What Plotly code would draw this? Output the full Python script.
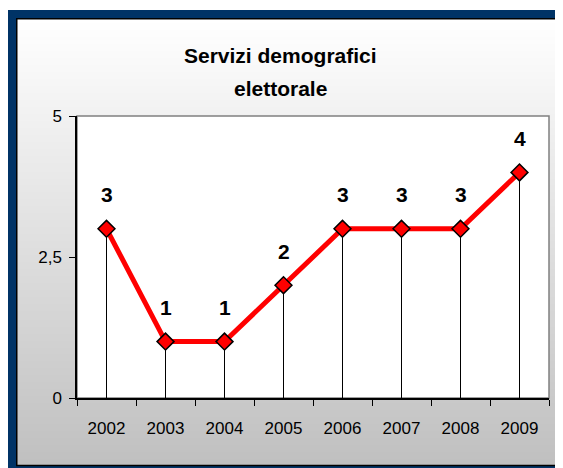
import base64
import struct
import zlib

import plotly.graph_objects as go

years = ["2002", "2003", "2004", "2005", "2006", "2007", "2008", "2009"]
values = [3, 1, 1, 2, 3, 3, 3, 4]
title_lines = ["Servizi demografici", "elettorale"]

OFF = 8  # browser body margin
W, H = 563 - OFF, 468 - OFF
# plot area in page pixels
L, R, T, B = 77, 549, 116, 398
PW, PH = R - L, B - T


def px(x):
    return (x - L) / PW


def py(y):
    return (B - y) / PH


def gradient_png(n, c_top, c_bot):
    raw = b""
    for i in range(n):
        t = i / (n - 1)
        c = int(round(c_top + (c_bot - c_top) * t))
        raw += b"\x00" + bytes([c, c, c])

    def chunk(tag, data):
        return struct.pack(">I", len(data)) + tag + data + struct.pack(">I", zlib.crc32(tag + data) & 0xFFFFFFFF)

    png = b"\x89PNG\r\n\x1a\n"
    png += chunk(b"IHDR", struct.pack(">IIBBBBB", 1, n, 8, 2, 0, 0, 0))
    png += chunk(b"IDAT", zlib.compress(raw))
    png += chunk(b"IEND", b"")
    return "data:image/png;base64," + base64.b64encode(png).decode()


def seg(x0, y0, x1, y1, color, width):
    return dict(type="line", xref="paper", yref="paper", x0=px(x0), y0=py(y0), x1=px(x1), y1=py(y1),
                line=dict(color=color, width=width), layer="below")


BLUE = "#003366"
shapes = [
    seg(8, 14, 570, 14, BLUE, 8),
    seg(12, 10, 12, 480, BLUE, 8),
    seg(561.75, 10, 561.75, 480, BLUE, 1.5),
    seg(8, 467.5, 570, 467.5, BLUE, 3),
    seg(16, 18.75, 561, 18.75, "black", 1.5),
    seg(16.75, 18, 16.75, 466, "black", 1.5),
    seg(16, 465.5, 561, 465.5, "black", 1.5),
    dict(type="rect", xref="paper", yref="paper", x0=0, x1=1, y0=0, y1=1,
         fillcolor="white", line=dict(color="#808080", width=1.5), layer="below"),
]

images = [dict(source=gradient_png(256, 255, 192), xref="paper", yref="paper",
               x=px(17), y=py(19), sizex=px(561) - px(17), sizey=py(19) - py(465),
               xanchor="left", yanchor="top", sizing="stretch", layer="below")]

dx, dy = [], []
for yr, v in zip(years, values):
    dx += [yr, yr, None]
    dy += [0, v, None]

fig = go.Figure()
fig.add_trace(go.Scatter(x=dx, y=dy, mode="lines", line=dict(color="black", width=1),
                         hoverinfo="skip", showlegend=False))
fig.add_trace(go.Scatter(x=years, y=values, mode="lines+markers",
                         line=dict(color="#ff0000", width=5),
                         marker=dict(symbol="diamond", size=13, color="#ff0000",
                                     line=dict(color="black", width=1.5)),
                         showlegend=False))

annotations = []
for i, v in enumerate(values):
    annotations.append(dict(x=i, y=v, xref="x", yref="y", text=str(v), showarrow=False, yshift=34,
                            yanchor="middle",
                            font=dict(family="Liberation Sans, Arial", size=21, color="black", weight="bold")))
annotations.append(dict(xref="paper", yref="paper", x=px(280), y=py(56), text=title_lines[0], showarrow=False,
                        yanchor="middle", xanchor="center",
                        font=dict(family="Liberation Sans, Arial", size=21, color="black", weight="bold")))
annotations.append(dict(xref="paper", yref="paper", x=px(280), y=py(88), text=title_lines[1], showarrow=False,
                        yanchor="middle", xanchor="center",
                        font=dict(family="Liberation Sans, Arial", size=21, color="black", weight="bold")))

fig.update_layout(
    width=W, height=H,
    margin=dict(l=L - OFF, r=W - (R - OFF), t=T - OFF, b=H - (B - OFF), pad=0),
    paper_bgcolor="white",
    plot_bgcolor="rgba(0,0,0,0)",
    separators=",.",
    shapes=shapes,
    images=images,
    annotations=annotations,
    font=dict(family="Liberation Sans, Arial", size=17, color="black"),
    showlegend=False,
)
fig.update_xaxes(type="category", categoryorder="array", categoryarray=years,
                 range=[-0.5, 7.5], showgrid=False, zeroline=False,
                 showline=True, linecolor="black", linewidth=1.5,
                 ticks="outside", tickson="boundaries", ticklen=6, tickcolor="black",
                 ticklabelstandoff=14, tickfont=dict(size=17))
fig.update_yaxes(range=[0, 5], tickvals=[0, 2.5, 5], showgrid=False, zeroline=False,
                 showline=True, linecolor="black", linewidth=1.5,
                 ticks="outside", ticklen=6, tickcolor="black", ticklabelstandoff=4,
                 tickfont=dict(size=17))

fig.write_html("out.html")
